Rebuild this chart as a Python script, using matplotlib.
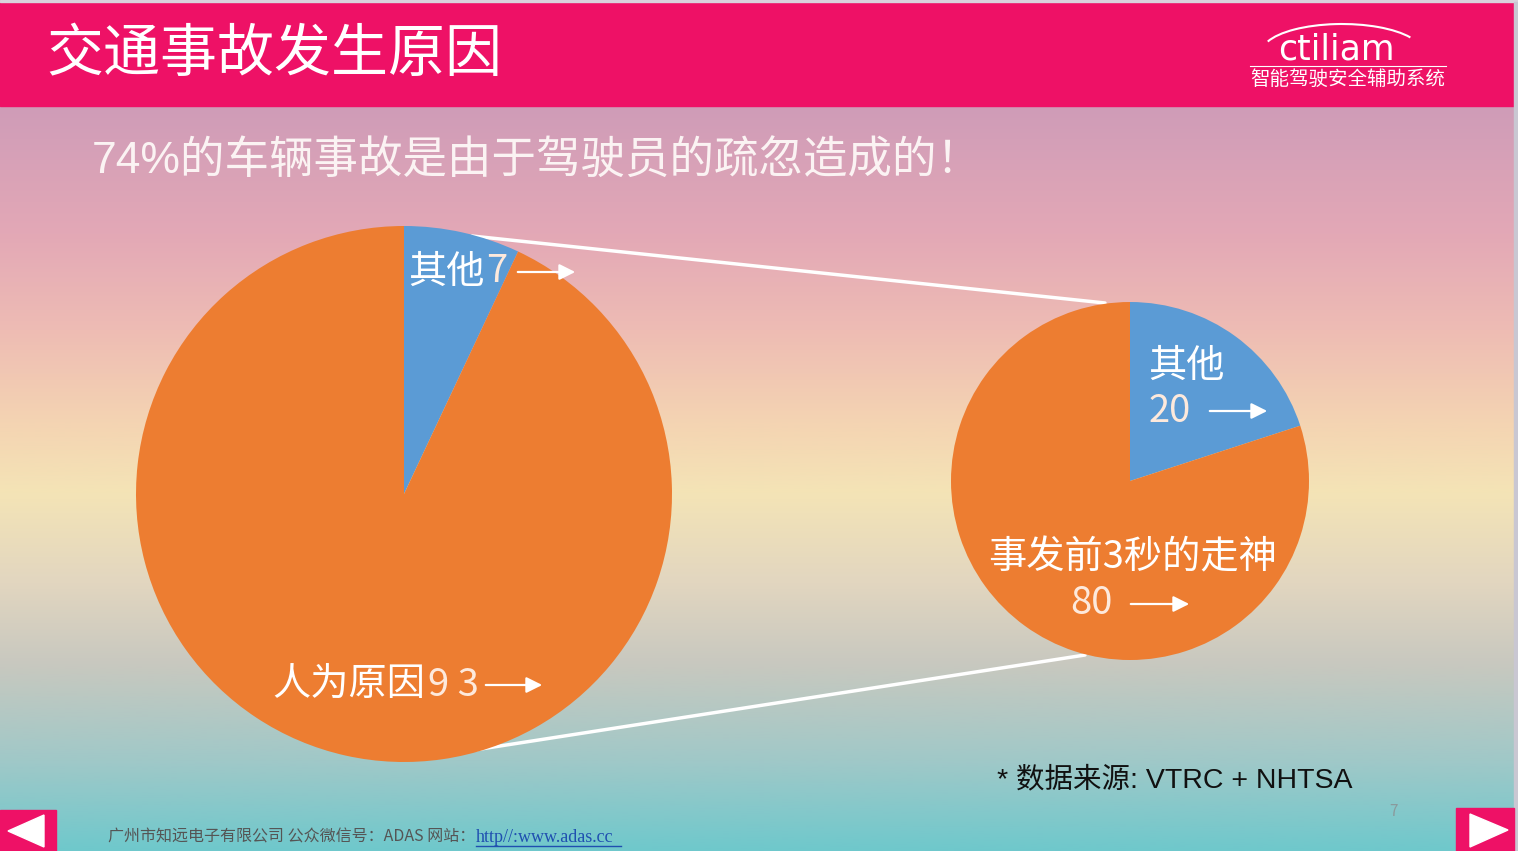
import numpy as np
import matplotlib.pyplot as plt
from matplotlib.colors import LinearSegmentedColormap
from matplotlib.patches import Rectangle, Polygon, Arc

plt.rcParams['font.family'] = ['Noto Sans CJK SC', 'DejaVu Sans']

W, H = 1518, 851

# data
main_labels = ['其他', '人为原因']
main_values = [7, 93]
detail_labels = ['其他', '事发前3秒的走神']
detail_values = [20, 80]
pie_colors = ['#5B9BD5', '#ED7D31']

title = '交通事故发生原因'
subtitle = '74%的车辆事故是由于驾驶员的疏忽造成的！'
source = '* 数据来源: VTRC + NHTSA'
footer = '广州市知远电子有限公司 公众微信号：ADAS 网站：'
footer_link = 'http//:www.adas.cc'

fig = plt.figure(figsize=(W / 100, H / 100), dpi=100)
ax = fig.add_axes([0, 0, 1, 1])

# background gradient (y up, pixel-like units)
grad = LinearSegmentedColormap.from_list('bg', [
    (0.00, '#6fc8cc'), (0.12, '#a0c8c8'), (0.25, '#c8c8bf'),
    (0.36, '#e2d6c0'), (0.48, '#f4e4b6'), (0.58, '#f4d3b2'),
    (0.70, '#eebcb4'), (0.83, '#e3a8b6'), (1.00, '#cf9cb8')])
g = np.linspace(0, 1, 256).reshape(-1, 1)
ax.imshow(g, cmap=grad, origin='lower', extent=[0, W, 0, H - 106], aspect='auto', zorder=0)

# header
ax.add_patch(Rectangle((0, H - 106), W, 106, color='#EE1166', zorder=1))
ax.add_patch(Rectangle((0, H - 2), W, 2, color='#d9d2dc', zorder=2))
ax.add_patch(Rectangle((W - 4, 0), 4, H - 2, color='#c9c7d2', zorder=2))
ax.text(46, H - 55, title, color='white', fontsize=41, va='center', ha='left', zorder=3)

# logo
ax.add_patch(Arc((1342, H - 52), 160, 56, theta1=12, theta2=172, color='white', lw=1.5, zorder=3))
ax.text(1336, H - 49, 'ctiliam', color='white', fontsize=25, ha='center', va='center',
        family='DejaVu Sans', zorder=3)
ax.plot([1250, 1446], [H - 66, H - 66], color='white', lw=0.8, zorder=3)
ax.text(1348, H - 79, '智能驾驶安全辅助系统', color='white', fontsize=14, ha='center', va='center', zorder=3)

# subtitle
ax.text(92, H - 161, subtitle, color='#fbf3f3', fontsize=32, ha='left', va='center',
        family=['Liberation Sans', 'Noto Sans CJK SC'], zorder=3)

# connector lines
ax.plot([472, 1105], [H - 236, H - 303], color='white', lw=2.5, zorder=2, solid_capstyle='round')
ax.plot([455, 1085], [H - 753, H - 655], color='white', lw=2.5, zorder=2, solid_capstyle='round')

# pies
ax.pie(main_values, colors=pie_colors, startangle=90, counterclock=False,
       center=(404, H - 494), radius=268, wedgeprops=dict(linewidth=0, zorder=3), frame=True)
ax.pie(detail_values, colors=pie_colors, startangle=90, counterclock=False,
       center=(1130, H - 481), radius=179, wedgeprops=dict(linewidth=0, zorder=3), frame=True)

lab = dict(color='white', fontsize=27.5, va='center', ha='left', weight='light', zorder=5)
num = dict(color='#fde9dc', fontsize=27.5, va='center', ha='left', weight='light', zorder=5)


def arrow(x0, x1, y):
    ax.annotate('', xy=(x1, H - y), xytext=(x0, H - y),
                arrowprops=dict(arrowstyle='-|>', color='white', lw=1.6, mutation_scale=24),
                zorder=5)


ax.text(408, H - 272, main_labels[0], **lab)
ax.text(486, H - 272, str(main_values[0]), **num)
arrow(515, 578, 272)

ax.text(272, H - 685, main_labels[1], **lab)
ax.text(428, H - 685, '9 3', **num)
arrow(483, 545, 685)

ax.text(1148, H - 366, detail_labels[0], **lab)
ax.text(1149, H - 411, str(detail_values[0]), **num)
arrow(1207, 1270, 411)

ax.text(1133, H - 558, detail_labels[1], **dict(lab, ha='center'))
ax.text(1070, H - 604, str(detail_values[1]), **num)
arrow(1128, 1192, 604)

# source note
ax.text(997, H - 780, source, color='#111111', fontsize=20.5, ha='left', va='center',
        family=['Liberation Sans', 'Noto Sans CJK SC'], zorder=3)

# footer
ax.text(108, H - 837, footer, color='#555555', fontsize=11.5, ha='left', va='center', zorder=3)
ax.text(476, H - 837, footer_link, color='#1f4fb0', fontsize=13, ha='left', va='center',
        family='Liberation Serif', zorder=3)
ax.plot([476, 621], [H - 846, H - 846], color='#1f4fb0', lw=1, zorder=3)
ax.text(1393, H - 812, '7', color='#8a9a9c', fontsize=11, ha='center', va='center', zorder=3)

# nav buttons
ax.add_patch(Rectangle((0, 0), 56, 41, color='#EE1166', zorder=3))
ax.add_patch(Polygon([[8, 20], [44, 36], [44, 4]], closed=True, color='white', zorder=4))
ax.add_patch(Rectangle((1456, 0), 58, 43, color='#EE1166', zorder=3))
ax.add_patch(Polygon([[1508, 21], [1470, 37], [1470, 4]], closed=True, color='white', zorder=4))

ax.set_xlim(0, W)
ax.set_ylim(0, H)
ax.set_aspect('auto')
ax.axis('off')

fig.savefig('out.png', dpi=100)
